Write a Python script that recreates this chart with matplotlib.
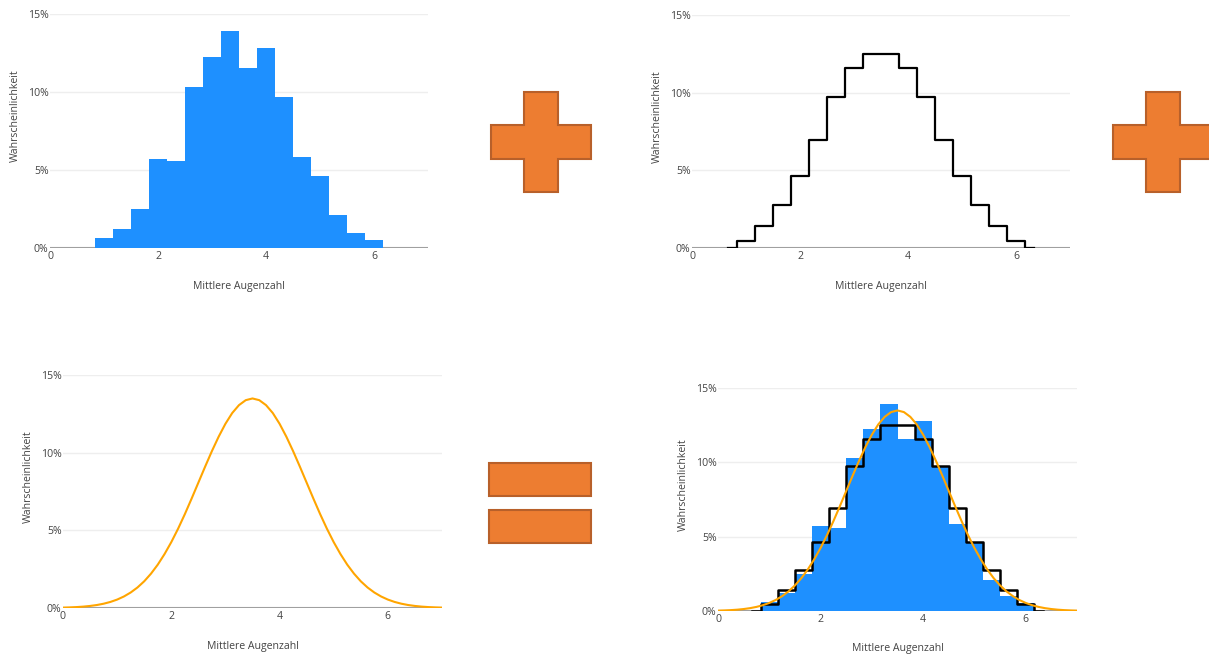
import numpy as np
import matplotlib
matplotlib.use("Agg")
import matplotlib.pyplot as plt
from matplotlib.patches import Polygon, Rectangle

plt.rcParams['font.family'] = ['Open Sans', 'DejaVu Sans']

# Mittlere Augenzahl bei 3 Wuerfeln: 1, 4/3, ..., 6
means = np.arange(3, 19) / 3

# Simulierte Haeufigkeiten in % (oben links)
sim_pct = [0.62, 1.22, 2.52, 5.70, 5.58, 10.30, 12.22, 13.93,
           11.54, 12.80, 9.70, 5.85, 4.59, 2.09, 0.98, 0.51]

# exakte Wahrscheinlichkeiten in % (oben rechts)
exact_pct = [0.46, 1.39, 2.78, 4.63, 6.94, 9.72, 11.57, 12.50,
             12.50, 11.57, 9.72, 6.94, 4.63, 2.78, 1.39, 0.46]

# Normalverteilungskurve (unten links)
curve_x = [0, 0.125, 0.25, 0.375, 0.5, 0.625, 0.75, 0.875,
           1, 1.125, 1.25, 1.375, 1.5, 1.625, 1.75, 1.875,
           2, 2.125, 2.25, 2.375, 2.5, 2.625, 2.75, 2.875,
           3, 3.125, 3.25, 3.375, 3.5, 3.625, 3.75, 3.875,
           4, 4.125, 4.25, 4.375, 4.5, 4.625, 4.75, 4.875,
           5, 5.125, 5.25, 5.375, 5.5, 5.625, 5.75, 5.875,
           6, 6.125, 6.25, 6.375, 6.5, 6.625, 6.75, 6.875, 7]
curve_y = [0.025, 0.039, 0.059, 0.089, 0.132, 0.192, 0.276, 0.390,
           0.542, 0.742, 0.998, 1.32, 1.72, 2.21, 2.79, 3.47,
           4.24, 5.10, 6.04, 7.04, 8.07, 9.10, 10.10, 11.03,
           11.86, 12.55, 13.06, 13.38, 13.49, 13.38, 13.06, 12.55,
           11.86, 11.03, 10.10, 9.10, 8.07, 7.04, 6.04, 5.10,
           4.24, 3.47, 2.79, 2.21, 1.72, 1.32, 0.998, 0.742,
           0.542, 0.390, 0.276, 0.192, 0.132, 0.089, 0.059, 0.039, 0.025]

y_ticks = [0, 5, 10, 15]
y_ticklabels = ["0%", "5%", "10%", "15%"]
x_ticks = [0, 2, 4, 6]

W, H = 1209, 657
BLUE = '#1E90FF'
CURVE = '#FFA500'
TXT = '#444444'
FS = 7.6

fig = plt.figure(figsize=(W / 100, H / 100), dpi=100)


def make_ax(left, right, top, bottom):
    # pixel box -> figure fraction
    ax = fig.add_axes([left / W, (H - bottom) / H, (right - left) / W, (bottom - top) / H])
    ax.set_xlim(0, 7)
    ax.set_ylim(0, 15)
    for s in ax.spines.values():
        s.set_visible(False)
    ax.set_yticks(y_ticks)
    ax.set_yticklabels(y_ticklabels)
    ax.set_xticks(x_ticks)
    ax.tick_params(length=0, labelsize=FS, labelcolor=TXT)
    ax.tick_params(axis='y', pad=1)
    ax.tick_params(axis='x', pad=2)
    ax.grid(axis='y', color='#eeeeee', lw=1)
    ax.set_axisbelow(True)
    ax.axhline(0, color='#a0a0a0', lw=1.5, zorder=1)
    ax.set_xlabel("Mittlere Augenzahl", fontsize=FS, color=TXT)
    ax.set_ylabel("Wahrscheinlichkeit", fontsize=FS, color=TXT)
    wpx = right - left
    hpx = bottom - top
    ax.yaxis.set_label_coords(-35 / wpx, 0.565)
    ax.xaxis.set_label_coords(0.5, -38 / hpx)
    ax.xaxis.label.set_va('center')
    ax.yaxis.label.set_va('center')
    return ax


# oben links: Simulation
ax1 = make_ax(50, 428, 14, 248)
ax1.bar(means, sim_pct, width=1 / 3, color=BLUE, zorder=2)

# oben rechts: exakte Verteilung
ax2 = make_ax(692, 1070, 15, 248)
step_x = np.concatenate([[means[0] - 1 / 3], means, [means[-1] + 1 / 3]])
step_y = np.concatenate([[0], exact_pct, [0]])
ax2.step(step_x, step_y, where='mid', color='black', lw=1.6, zorder=3)

# unten links: Normalverteilung
ax3 = make_ax(63, 442, 375, 608)
ax3.plot(curve_x, curve_y, color=CURVE, lw=1.5, zorder=3)

# unten rechts: alles zusammen
ax4 = make_ax(718, 1077, 388, 611)
ax4.bar(means, sim_pct, width=1 / 3, color=BLUE, zorder=2)
ax4.step(step_x, step_y, where='mid', color='black', lw=1.8, zorder=3)
ax4.plot(curve_x, curve_y, color=CURVE, lw=1.5, zorder=4)

# Rechenzeichen (+, +, =)
ov = fig.add_axes([0, 0, 1, 1])
ov.set_xlim(0, W)
ov.set_ylim(H, 0)
ov.axis('off')
ov.patch.set_visible(False)

ORANGE = '#ED7D31'
EDGE = '#B8602A'


def plus(cx, cy, size=100, arm=34):
    s = size / 2
    a = arm / 2
    pts = [(cx - a, cy - s), (cx + a, cy - s), (cx + a, cy - a), (cx + s, cy - a),
           (cx + s, cy + a), (cx + a, cy + a), (cx + a, cy + s), (cx - a, cy + s),
           (cx - a, cy + a), (cx - s, cy + a), (cx - s, cy - a), (cx - a, cy - a)]
    ov.add_patch(Polygon(pts, closed=True, facecolor=ORANGE, edgecolor=EDGE, lw=1.5))


plus(540.5, 142)
plus(1163, 142)
ov.add_patch(Rectangle((489, 463), 102, 33, facecolor=ORANGE, edgecolor=EDGE, lw=1.5))
ov.add_patch(Rectangle((489, 510), 102, 33, facecolor=ORANGE, edgecolor=EDGE, lw=1.5))

fig.savefig("out.png", dpi=100)
